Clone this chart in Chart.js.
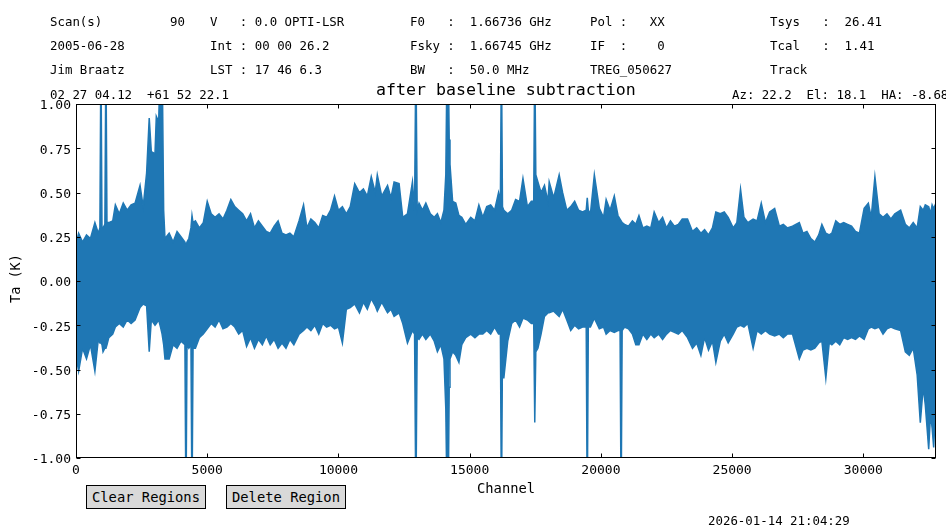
<!DOCTYPE html>
<html>
<head>
<meta charset="utf-8">
<script src="https://cdn.jsdelivr.net/npm/chart.js@4"></script>
<style>
  body { margin: 0; background: #fff; }
  #wrap { position: relative; width: 946px; height: 531px; overflow: hidden; font-family: "DejaVu Sans Mono", monospace; color: #000; }
  #wrap canvas { position: absolute; left: 0; top: 0; }
  .t { position: absolute; white-space: pre; line-height: 1; font-size: 12.4px; }
  .btn { position: absolute; height: 22px; width: 118px; background: #d9d9d9; border: 1px solid #000; font-size: 13.8px; line-height: 22px; text-align: center; }
</style>
</head>
<body>
<div id="wrap">
  <canvas id="spectrum" width="946" height="531"></canvas>

  <div class="t" style="left:50px;top:16px">Scan(s)</div>
  <div class="t" style="left:170px;top:16px">90</div>
  <div class="t" style="left:210px;top:16px">V   : 0.0 OPTI-LSR</div>
  <div class="t" style="left:410px;top:16px">F0   :  1.66736 GHz</div>
  <div class="t" style="left:590px;top:16px">Pol :   XX</div>
  <div class="t" style="left:770px;top:16px">Tsys   :  26.41</div>

  <div class="t" style="left:50px;top:40px">2005-06-28</div>
  <div class="t" style="left:210px;top:40px">Int : 00 00 26.2</div>
  <div class="t" style="left:410px;top:40px">Fsky :  1.66745 GHz</div>
  <div class="t" style="left:590px;top:40px">IF  :    0</div>
  <div class="t" style="left:770px;top:40px">Tcal   :  1.41</div>

  <div class="t" style="left:50px;top:64px">Jim Braatz</div>
  <div class="t" style="left:210px;top:64px">LST : 17 46 6.3</div>
  <div class="t" style="left:410px;top:64px">BW   :  50.0 MHz</div>
  <div class="t" style="left:590px;top:64px">TREG_050627</div>
  <div class="t" style="left:770px;top:64px">Track</div>

  <div class="t" style="left:50px;top:89px">02 27 04.12  +61 52 22.1</div>
  <div class="t" style="left:732px;top:89px">Az: 22.2  El: 18.1  HA: -8.68</div>

  <div class="t" style="left:376px;top:82px;font-size:16.6px">after baseline subtraction</div>

  <div class="t" style="left:477px;top:482px;font-size:13.8px">Channel</div>
  <div class="t" style="left:-6px;top:274px;font-size:13.5px;transform:rotate(-90deg);transform-origin:22px 7px">Ta (K)</div>

  <div class="btn" style="left:86px;top:485px">Clear Regions</div>
  <div class="btn" style="left:226px;top:485px">Delete Region</div>

  <div class="t" style="left:708px;top:515px">2026-01-14 21:04:29</div>
</div>

<script>
// envelope of the spectrum (channel, max Ta, min Ta)
const channels = [
  0, 100, 250, 400, 550, 720, 850, 910, 950, 990,
  1030, 1100, 1140, 1180, 1250, 1400, 1500, 1650, 1800, 1950,
  2100, 2250, 2440, 2560, 2690, 2790, 2870, 3010, 3060, 3150,
  3220, 3280, 3340, 3390, 3550, 3700, 3850, 4000, 4150, 4190,
  4230, 4300, 4380, 4420, 4460, 4550, 4700, 4850, 5000, 5150,
  5300, 5450, 5600, 5750, 5900, 6050, 6200, 6350, 6500, 6650,
  6800, 6950, 7100, 7250, 7400, 7550, 7700, 7850, 8000, 8150,
  8300, 8500, 8670, 8800, 8950, 9100, 9250, 9400, 9550, 9700,
  9850, 10000, 10150, 10300, 10450, 10620, 10800, 10950, 11100, 11250,
  11400, 11480, 11650, 11870, 12000, 12120, 12310, 12450, 12630, 12820,
  12900, 12950, 13000, 13070, 13200, 13330, 13500, 13650, 13770, 13900,
  14020, 14090, 14140, 14180, 14220, 14250, 14350, 14470, 14590, 14700,
  14850, 15040, 15200, 15350, 15500, 15650, 15800, 15950, 16100, 16170,
  16210, 16250, 16300, 16450, 16600, 16750, 16900, 17030, 17200, 17350,
  17440, 17480, 17520, 17600, 17720, 17850, 17980, 18030, 18200, 18410,
  18540, 18700, 18850, 19000, 19150, 19300, 19440, 19480, 19520, 19600,
  19750, 19940, 20100, 20200, 20350, 20510, 20650, 20730, 20770, 20810,
  20900, 21050, 21200, 21330, 21450, 21600, 21750, 21900, 22030, 22200,
  22350, 22500, 22650, 22800, 22950, 23100, 23300, 23490, 23650, 23810,
  23950, 24100, 24250, 24380, 24550, 24700, 24850, 25040, 25180, 25320,
  25450, 25600, 25800, 25950, 26110, 26270, 26430, 26620, 26800, 26950,
  27100, 27300, 27560, 27700, 27850, 28000, 28150, 28300, 28420, 28570,
  28700, 28800, 28950, 29100, 29250, 29400, 29550, 29700, 29850, 30030,
  30190, 30300, 30440, 30600, 30750, 30900, 31050, 31200, 31420, 31600,
  31750, 31900, 32050, 32170, 32280, 32360, 32490, 32560, 32620, 32680,
  32768
];
const upperTa = [
  0.21, 0.27, 0.22, 0.26, 0.24, 0.33, 0.27, 0.30, 1.30, 0.30,
  0.30, 0.32, 1.30, 0.33, 0.33, 0.34, 0.43, 0.38, 0.44, 0.40,
  0.43, 0.44, 0.54, 0.42, 0.61, 0.92, 0.73, 0.72, 0.93, 0.90,
  1.30, 1.30, 0.40, 0.24, 0.27, 0.22, 0.28, 0.25, 0.22, 0.20,
  0.22, 0.24, 0.30, 0.37, 0.33, 0.34, 0.30, 0.33, 0.45, 0.38,
  0.36, 0.38, 0.35, 0.40, 0.46, 0.42, 0.40, 0.38, 0.34, 0.38,
  0.30, 0.34, 0.31, 0.28, 0.27, 0.31, 0.34, 0.27, 0.26, 0.27,
  0.25, 0.34, 0.43, 0.30, 0.35, 0.33, 0.30, 0.37, 0.36, 0.40,
  0.48, 0.40, 0.42, 0.38, 0.42, 0.55, 0.50, 0.52, 0.48, 0.59,
  0.50, 0.60, 0.48, 0.54, 0.47, 0.56, 0.55, 0.36, 0.38, 0.56,
  0.40, 1.30, 0.40, 0.44, 0.40, 0.44, 0.38, 0.36, 0.38, 0.33,
  0.40, 0.60, 1.30, 1.30, 0.80, 0.66, 0.45, 0.44, 0.37, 0.36,
  0.32, 0.36, 0.34, 0.43, 0.36, 0.42, 0.43, 0.40, 0.50, 0.45,
  1.30, 0.42, 0.40, 0.38, 0.40, 0.46, 0.45, 0.58, 0.42, 0.45,
  0.45, 1.30, 0.60, 0.56, 0.50, 0.54, 0.45, 0.56, 0.47, 0.60,
  0.50, 0.40, 0.42, 0.45, 0.40, 0.39, 0.40, 0.47, 0.40, 0.38,
  0.60, 0.41, 0.36, 0.46, 0.40, 0.48, 0.37, 0.35, 0.34, 0.33,
  0.32, 0.31, 0.34, 0.32, 0.37, 0.30, 0.31, 0.30, 0.39, 0.33,
  0.36, 0.30, 0.34, 0.31, 0.32, 0.35, 0.35, 0.28, 0.30, 0.27,
  0.29, 0.26, 0.30, 0.39, 0.38, 0.39, 0.36, 0.30, 0.33, 0.52,
  0.36, 0.33, 0.35, 0.34, 0.44, 0.33, 0.39, 0.41, 0.31, 0.32,
  0.30, 0.31, 0.33, 0.27, 0.28, 0.24, 0.22, 0.26, 0.32, 0.27,
  0.26, 0.27, 0.34, 0.32, 0.33, 0.32, 0.31, 0.28, 0.27, 0.41,
  0.44, 0.36, 0.59, 0.38, 0.36, 0.38, 0.35, 0.38, 0.40, 0.32,
  0.30, 0.33, 0.30, 0.42, 0.40, 0.43, 0.42, 0.38, 0.43, 0.41,
  0.44
];
const lowerTa = [
  -0.42, -0.51, -0.38, -0.44, -0.36, -0.51, -0.33, -0.35, -0.35, -0.36,
  -0.40, -0.38, -0.38, -0.36, -0.32, -0.30, -0.26, -0.24, -0.26, -0.22,
  -0.24, -0.22, -0.15, -0.13, -0.14, -0.40, -0.22, -0.25, -0.24, -0.22,
  -0.26, -0.30, -0.36, -0.44, -0.44, -0.36, -0.38, -0.34, -0.36, -1.30,
  -0.36, -0.38, -0.36, -1.30, -0.38, -0.38, -0.32, -0.30, -0.27, -0.24,
  -0.26, -0.22, -0.27, -0.26, -0.24, -0.26, -0.30, -0.28, -0.37, -0.32,
  -0.38, -0.33, -0.36, -0.31, -0.36, -0.33, -0.38, -0.35, -0.38, -0.33,
  -0.36, -0.30, -0.28, -0.26, -0.28, -0.25, -0.30, -0.24, -0.26, -0.25,
  -0.27, -0.26, -0.35, -0.16, -0.15, -0.13, -0.18, -0.12, -0.16, -0.10,
  -0.14, -0.17, -0.12, -0.18, -0.16, -0.20, -0.18, -0.24, -0.35, -0.28,
  -0.30, -1.30, -0.32, -0.33, -0.30, -0.33, -0.30, -0.34, -0.40, -0.36,
  -0.44, -0.72, -1.30, -1.30, -0.60, -0.44, -0.40, -0.42, -0.46, -0.36,
  -0.32, -0.30, -0.32, -0.30, -0.30, -0.28, -0.30, -0.26, -0.30, -0.30,
  -1.30, -0.40, -0.55, -0.34, -0.24, -0.22, -0.26, -0.21, -0.22, -0.24,
  -0.24, -0.80, -0.40, -0.38, -0.30, -0.20, -0.18, -0.18, -0.17, -0.20,
  -0.16, -0.22, -0.28, -0.25, -0.27, -0.26, -0.26, -1.30, -0.26, -0.26,
  -0.21, -0.27, -0.26, -0.30, -0.28, -0.29, -0.28, -0.28, -1.30, -0.28,
  -0.26, -0.27, -0.30, -0.36, -0.36, -0.30, -0.33, -0.30, -0.32, -0.30,
  -0.33, -0.30, -0.28, -0.29, -0.30, -0.28, -0.32, -0.38, -0.35, -0.42,
  -0.32, -0.39, -0.34, -0.46, -0.34, -0.30, -0.35, -0.30, -0.26, -0.25,
  -0.26, -0.24, -0.38, -0.28, -0.30, -0.28, -0.30, -0.31, -0.30, -0.32,
  -0.30, -0.30, -0.44, -0.39, -0.38, -0.39, -0.38, -0.35, -0.34, -0.55,
  -0.35, -0.36, -0.34, -0.36, -0.32, -0.33, -0.32, -0.33, -0.31, -0.33,
  -0.27, -0.26, -0.27, -0.26, -0.30, -0.27, -0.26, -0.27, -0.28, -0.40,
  -0.42, -0.38, -0.53, -0.80, -0.60, -0.70, -0.95, -0.75, -0.83, -0.94,
  -0.65
];
const xTickValues = [0, 5000, 10000, 15000, 20000, 25000, 30000];
const yTickStep = 0.25;

const blue = "#1f77b4";
Chart.defaults.font.family = "'DejaVu Sans Mono', monospace";
Chart.defaults.font.size = 13;
Chart.defaults.color = "#000";

// matplotlib style frame: box round the plot with inward ticks on all sides
const frame = {
    id: "frame",
    afterDatasetsDraw(chart) {
        const { ctx, chartArea: a, scales } = chart;
        const L = Math.round(a.left) + 0.5, R = Math.round(a.right) - 0.5;
        const T = Math.round(a.top) + 0.5, B = Math.round(a.bottom) - 0.5;
        ctx.save();
        ctx.strokeStyle = "#000";
        ctx.lineWidth = 1;
        ctx.beginPath();
        scales.x.ticks.forEach(t => {
            const px = Math.round(scales.x.getPixelForValue(t.value)) + 0.5;
            ctx.moveTo(px, B); ctx.lineTo(px, B - 4);
            ctx.moveTo(px, T); ctx.lineTo(px, T + 4);
        });
        scales.y.ticks.forEach(t => {
            const py = Math.round(scales.y.getPixelForValue(t.value)) + 0.5;
            ctx.moveTo(L, py); ctx.lineTo(L + 4, py);
            ctx.moveTo(R, py); ctx.lineTo(R - 4, py);
        });
        ctx.stroke();
        ctx.strokeRect(L, T, R - L, B - T);
        ctx.restore();
    }
};

const ctx = document.getElementById("spectrum").getContext("2d");
new Chart(ctx, {
    type: "line",
    data: {
        datasets: [
            {
                label: "max",
                data: channels.map((c, i) => ({ x: c, y: upperTa[i] })),
                borderColor: blue,
                backgroundColor: blue,
                borderWidth: 1.5,
                pointRadius: 0,
                fill: "+1"
            },
            {
                label: "min",
                data: channels.map((c, i) => ({ x: c, y: lowerTa[i] })),
                borderColor: blue,
                backgroundColor: blue,
                borderWidth: 1.5,
                pointRadius: 0,
                fill: false
            }
        ]
    },
    options: {
        responsive: false,
        animation: false,
        layout: { padding: { top: 104, right: 10, left: 0, bottom: 0 } },
        plugins: { legend: { display: false }, tooltip: { enabled: false } },
        scales: {
            x: {
                type: "linear",
                min: 0,
                max: 32768,
                ticks: { padding: 5, maxRotation: 0, autoSkip: false, callback: v => String(v) },
                afterBuildTicks: s => { s.ticks = xTickValues.map(v => ({ value: v })); },
                afterFit: s => { s.height = 73; },
                grid: { display: false, drawTicks: false },
                border: { display: false }
            },
            y: {
                min: -1,
                max: 1,
                ticks: { stepSize: yTickStep, padding: 5, labelOffset: 2, callback: v => v.toFixed(2) },
                afterFit: s => { s.width = 76; },
                grid: { display: false, drawTicks: false },
                border: { display: false }
            }
        }
    },
    plugins: [frame]
});
</script>
</body>
</html>
